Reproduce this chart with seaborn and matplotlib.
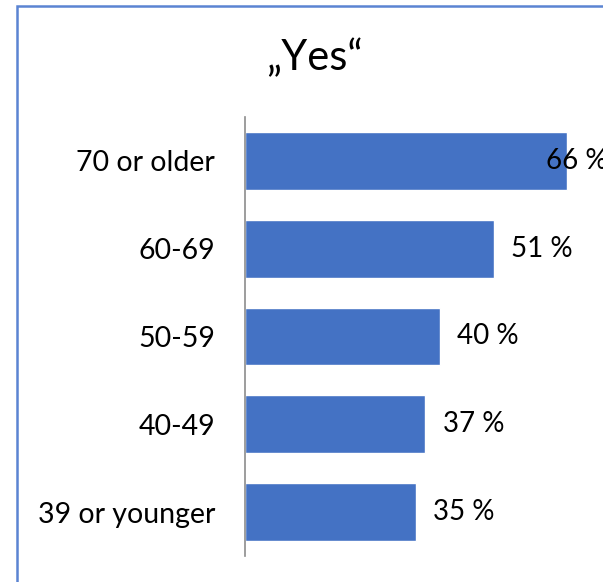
import matplotlib
matplotlib.use("Agg")
import matplotlib.pyplot as plt
import matplotlib.patches as mpatches
import seaborn as sns
import pandas as pd

# Share of "yes" answers by age group
age_groups = ["70 or older", "60-69", "50-59", "40-49", "39 or younger"]
yes_share = [66, 51, 40, 37, 35]
title_text = "\u201eYes\u201c"

sns.set_theme(style="white")
plt.rcParams["font.family"] = ["Lato", "DejaVu Sans"]

W, H, DPI = 603, 582, 100
fig = plt.figure(figsize=(W / DPI, H / DPI), dpi=DPI)
fig.patch.set_facecolor("white")

# plot area in pixels: left 245, right 603, top 117, bottom 556
ax = fig.add_axes([245 / W, 1 - 556 / H, (603 - 245) / W, (556 - 117) / H])

df = pd.DataFrame({"group": age_groups, "share": yes_share})
sns.barplot(data=df, x="share", y="group", orient="h", color="#4472C4",
            saturation=1, width=0.66, ax=ax)

ax.set_xlim(0, 73.4)
ax.set_ylim(4.5, -0.5)
ax.set_xlabel("")
ax.set_ylabel("")
ax.set_xticks([])
for s in ["top", "right", "bottom"]:
    ax.spines[s].set_visible(False)
ax.spines["left"].set_color("#8c8c8c")
ax.spines["left"].set_linewidth(1.2)
ax.tick_params(axis="y", length=0, pad=21.5, labelsize=20.5, labelcolor="black")

# value labels sit just past each bar, pulled back inside the plot area near the edge
label_gap = 3.5
label_max_x = 61.7
for i, v in enumerate(yes_share):
    ax.text(min(v + label_gap, label_max_x), i, f"{v} %", va="center", ha="left",
            fontsize=20, color="black", clip_on=False)

fig.text(314 / W, 1 - 57 / H, title_text, ha="center", va="center",
         fontsize=30, color="black")

# chart frame
fig.patches.append(mpatches.Rectangle((16.5 / W, -0.05), 1.1, 1 - 5.5 / H + 0.05,
                                      transform=fig.transFigure, fill=False,
                                      edgecolor="#5b84d2", linewidth=1.8))

fig.savefig("out.png", dpi=DPI)
